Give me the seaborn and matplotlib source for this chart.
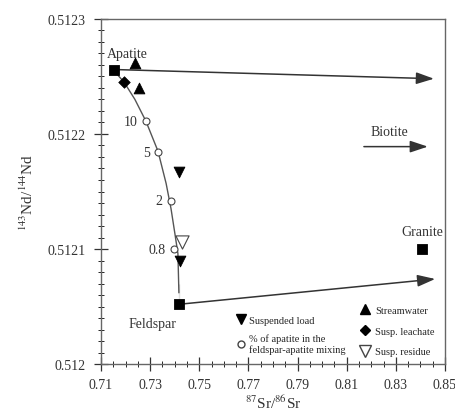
import numpy as np
import pandas as pd
import matplotlib
matplotlib.use("Agg")
import matplotlib.pyplot as plt
from matplotlib.ticker import MultipleLocator, FixedLocator
from matplotlib.lines import Line2D
import seaborn as sns

# end members (squares)
member_names = ["Apatite", "Feldspar", "Granite"]
member_sr = [0.7153, 0.7417, 0.8407]
member_nd = [0.512256, 0.512052, 0.512100]

# samples
stream_sr = [0.7238, 0.7255]
stream_nd = [0.512262, 0.512240]
leach_sr = [0.7194]
leach_nd = [0.512245]
susp_sr = [0.7418, 0.7421]
susp_nd = [0.512167, 0.512090]
resid_sr = [0.7430]
resid_nd = [0.512106]

# % apatite in mixing (open circles)
mix_labels = ["10", "5", "2", "0.8"]
mix_sr = [0.7283, 0.7332, 0.7385, 0.7396]
mix_nd = [0.512211, 0.512184, 0.512142, 0.512100]

# mixing curve
curve_sr = [0.7169, 0.7194, 0.7238, 0.7283, 0.7332, 0.7365, 0.7385, 0.7401, 0.7413, 0.7417, 0.7417]
curve_nd = [0.512251, 0.512245, 0.512230, 0.512211, 0.512185, 0.512157, 0.512135, 0.512113, 0.512096, 0.512070, 0.512054]

# arrows (start, end)
arrow_apatite = [(0.7153, 0.512256), (0.8455, 0.512248)]
arrow_feldspar = [(0.7417, 0.512052), (0.8460, 0.512074)]
arrow_biotite = [(0.8170, 0.512189), (0.8430, 0.512189)]

xticks = [0.71, 0.73, 0.75, 0.77, 0.79, 0.81, 0.83, 0.85]
xtick_labels = ["0.71", "0.73", "0.75", "0.77", "0.79", "0.81", "0.83", "0.85"]
yticks = [0.512, 0.5121, 0.5122, 0.5123]
ytick_labels = ["0.512", "0.5121", "0.5122", "0.5123"]

sns.set_theme(style="white")
plt.rcParams['font.family'] = ['Liberation Serif', 'DejaVu Serif']
plt.rcParams['mathtext.fontset'] = 'stix'

fig = plt.figure(figsize=(4.55, 4.14), dpi=100)
ax = fig.add_axes([0.222, 0.118, 0.756, 0.834])

curve = pd.DataFrame({"sr": curve_sr, "nd": curve_nd})
sns.lineplot(data=curve, x="sr", y="nd", sort=False, color="#555555", lw=1, ax=ax)

for (x0, y0), (x1, y1) in [arrow_apatite, arrow_feldspar, arrow_biotite]:
    ax.annotate("", xy=(x1, y1), xytext=(x0, y0),
                arrowprops=dict(arrowstyle="-|>,head_length=0.9,head_width=0.3",
                                color="#333333", lw=1.1, shrinkA=0, shrinkB=0))

sns.scatterplot(x=member_sr, y=member_nd, marker="s", s=55, color="black", edgecolor="black", ax=ax, zorder=5)
sns.scatterplot(x=stream_sr, y=stream_nd, marker="^", s=60, color="black", edgecolor="black", ax=ax, zorder=5)
sns.scatterplot(x=leach_sr, y=leach_nd, marker="D", s=35, color="black", edgecolor="black", ax=ax, zorder=5)
sns.scatterplot(x=susp_sr, y=susp_nd, marker="v", s=60, color="black", edgecolor="black", ax=ax, zorder=5)
sns.scatterplot(x=resid_sr, y=resid_nd, marker="v", s=90, facecolor="white", edgecolor="#444444", linewidth=0.8, ax=ax, zorder=4)
sns.scatterplot(x=mix_sr, y=mix_nd, marker="o", s=25, facecolor="white", edgecolor="#444444", linewidth=0.8, ax=ax, zorder=4)

tk = dict(fontsize=10, color="#333333")
for lab, x, y in zip(mix_labels, mix_sr, mix_nd):
    ax.annotate(lab, (x, y), xytext=(-6, 0), textcoords="offset points", ha="right", va="center", **tk)
ax.annotate("Apatite", (member_sr[0], member_nd[0]), xytext=(-5, 7), textcoords="offset points", ha="left", va="bottom", **tk)
ax.annotate("Feldspar", (member_sr[1], member_nd[1]), xytext=(-2, -9), textcoords="offset points", ha="right", va="top", **tk)
ax.annotate("Granite", (member_sr[2], member_nd[2]), xytext=(0, 8), textcoords="offset points", ha="center", va="bottom", **tk)
ax.annotate("Biotite", (arrow_biotite[0][0], arrow_biotite[0][1]), xytext=(5, 6), textcoords="offset points", ha="left", va="bottom", **tk)

ax.set_xlim(0.71, 0.85)
ax.set_ylim(0.512, 0.5123)
ax.xaxis.set_major_locator(FixedLocator(xticks))
ax.set_xticklabels(xtick_labels)
ax.xaxis.set_minor_locator(MultipleLocator(0.005))
ax.set_yticks(yticks)
ax.set_yticklabels(ytick_labels)
ax.yaxis.set_minor_locator(MultipleLocator(0.00001))
ax.tick_params(which="major", direction="inout", length=10, width=0.9, labelsize=10, colors="#333333", bottom=True, left=True)
ax.tick_params(which="minor", direction="inout", length=5, width=0.7, bottom=True, left=True)
ax.tick_params(axis="y", pad=6)
ax.tick_params(axis="x", pad=5)
for sp in ax.spines.values():
    sp.set_color("#666666")
    sp.set_linewidth(1.0)

ax.set_xlabel(r"$^{87}$Sr/$^{86}$Sr", fontsize=11, color="#333333", labelpad=2)
ax.set_ylabel(r"$^{143}$Nd/$^{144}$Nd", fontsize=11, color="#333333", labelpad=8)

h1 = [Line2D([], [], ls="", marker="v", color="black", ms=7),
      Line2D([], [], ls="", marker="o", mfc="white", mec="#444444", ms=5)]
leg1 = ax.legend(h1, ["Suspended load", "% of apatite in the\nfeldspar-apatite mixing"],
                 loc="upper left", bbox_to_anchor=(0.38, 0.155), frameon=False, fontsize=7.5,
                 handlelength=0.8, handletextpad=0.4, labelspacing=0.8, borderpad=0.0)
ax.add_artist(leg1)
h2 = [Line2D([], [], ls="", marker="^", color="black", ms=7),
      Line2D([], [], ls="", marker="D", color="black", ms=5),
      Line2D([], [], ls="", marker="v", mfc="white", mec="#444444", ms=9)]
ax.legend(h2, ["Streamwater", "Susp. leachate", "Susp. residue"],
          loc="upper left", bbox_to_anchor=(0.74, 0.185), frameon=False, fontsize=7.5,
          handlelength=0.8, handletextpad=0.6, labelspacing=1.1, borderpad=0.0)

fig.savefig("out.png", dpi=100)
